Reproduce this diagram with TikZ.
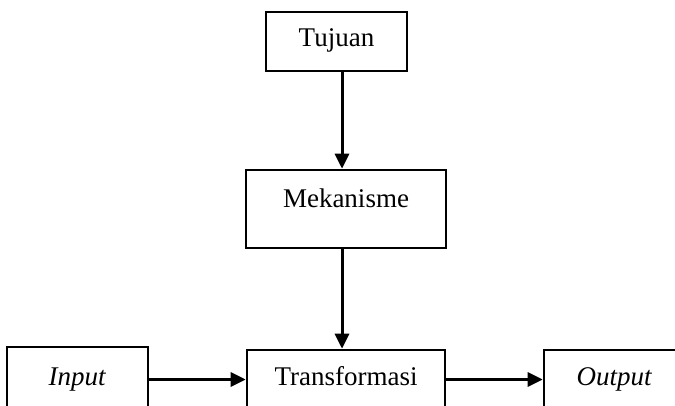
\documentclass[tikz,border=0pt]{standalone}
\usepackage{fontspec}
\setmainfont{Liberation Serif}
\usetikzlibrary{arrows.meta}

\begin{document}
\begin{tikzpicture}[x=1pt,y=1pt]
\tikzstyle{kotak}=[draw,line width=2.6pt,inner sep=0pt,text height=18pt,text depth=7pt,font=\fontsize{27}{32}\selectfont];
\tikzstyle{panah}=[line width=3pt,-{Triangle[length=15pt,width=14pt]}];
\clip(0,0) rectangle (675,405);
\node[kotak,minimum width=141pt,minimum height=59pt](tujuan) at (336.5,363.5) {Tujuan};
\node[kotak,minimum width=200pt,minimum height=78pt,text depth=20pt](mekanisme) at (346,196) {Mekanisme};
\node[kotak,minimum width=141pt,minimum height=65pt](input) at (77.5,25.5) {\textit{Input}};
\node[kotak,minimum width=198pt,minimum height=59pt](transformasi) at (346,25.5) {Transformasi};
\node[kotak,minimum width=141pt,minimum height=59pt](output) at (614.5,25.5) {\textit{Output}};
\coordinate(poros) at (342,0);
\draw[panah](tujuan.south -| poros)--(mekanisme.north -| poros);
\draw[panah](mekanisme.south -| poros)--(transformasi.north -| poros);
\draw[panah](input.east)--(transformasi.west);
\draw[panah](transformasi.east)--(output.west);
\end{tikzpicture}
\end{document}
